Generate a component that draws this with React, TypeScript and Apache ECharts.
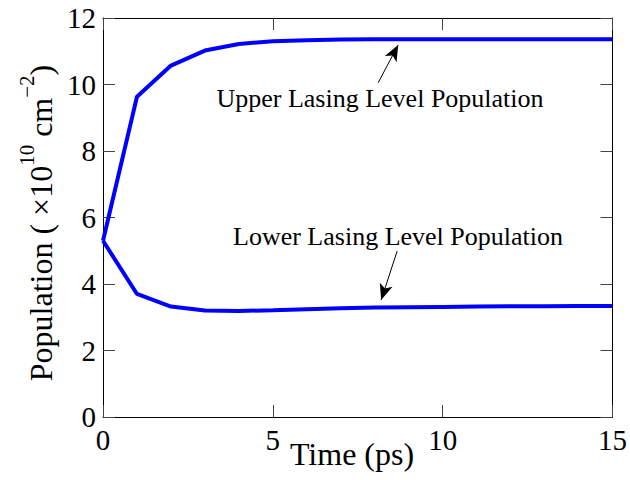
import React, { useEffect, useRef } from "react";
import * as echarts from "echarts";

const times = [0, 1, 2, 3, 4, 5, 6, 7, 8, 9, 10, 11, 12, 13, 14, 15];
const upperPopulation = [5.3, 9.63, 10.57, 11.02, 11.22, 11.3, 11.33, 11.35, 11.36, 11.36, 11.36, 11.36, 11.36, 11.36, 11.36, 11.36];
const lowerPopulation = [5.3, 3.7, 3.32, 3.2, 3.19, 3.21, 3.24, 3.27, 3.29, 3.3, 3.31, 3.32, 3.33, 3.33, 3.34, 3.34];
const upperLabel = "Upper Lasing Level Population";
const lowerLabel = "Lower Lasing Level Population";
const upperArrow = [[8.1, 10.05], [8.69, 11.19]];
const lowerArrow = [[8.66, 4.99], [8.19, 3.52]];

const FONT = "Liberation Serif";

export default function App() {
  const ref = useRef<HTMLDivElement>(null);
  useEffect(() => {
    if (!ref.current) return;
    const chart = echarts.init(ref.current, undefined, { renderer: "svg" });
    const tickStyle = { show: true, inside: true, length: 12, lineStyle: { color: "#444", width: 1 } };
    const lineStyle = { show: true, onZero: false, lineStyle: { color: "#000", width: 1 } };
    const labelBase = { fontFamily: FONT, fontSize: 29, color: "#000" };
    const arrowLine = (pts: number[][]) => ({
      silent: true,
      symbol: ["none", "arrow"],
      symbolSize: [10, 16],
      label: { show: false },
      lineStyle: { color: "#000", width: 1, type: "solid" },
      emphasis: { disabled: true },
      data: [[{ coord: pts[0] }, { coord: pts[1] }]],
    });
    chart.setOption({
      animation: false,
      backgroundColor: "#fff",
      textStyle: { fontFamily: FONT },
      grid: { left: 103, right: 16, top: 18, bottom: 63, containLabel: false },
      xAxis: [
        {
          type: "value", min: 0, max: 15, interval: 5, position: "bottom",
          axisLine: lineStyle, axisTick: tickStyle, splitLine: { show: false },
          axisLabel: { ...labelBase, margin: 8, showMinLabel: true, showMaxLabel: true },
        },
        {
          type: "value", min: 0, max: 15, interval: 5, position: "top",
          axisLine: lineStyle, axisTick: tickStyle, splitLine: { show: false },
          axisLabel: { show: false },
        },
      ],
      yAxis: [
        {
          type: "value", min: 0, max: 12, interval: 2, position: "left",
          axisLine: lineStyle, axisTick: tickStyle, splitLine: { show: false },
          axisLabel: { ...labelBase, margin: 7 },
        },
        {
          type: "value", min: 0, max: 12, interval: 2, position: "right",
          axisLine: lineStyle, axisTick: tickStyle, splitLine: { show: false },
          axisLabel: { show: false },
        },
      ],
      series: [
        {
          type: "line",
          name: "Upper",
          data: times.map((t, i) => [t, upperPopulation[i]]),
          showSymbol: false,
          symbol: "none",
          lineStyle: { color: "#0000ff", width: 4 },
          itemStyle: { color: "#0000ff" },
          markLine: arrowLine(upperArrow),
        },
        {
          type: "line",
          name: "Lower",
          data: times.map((t, i) => [t, lowerPopulation[i]]),
          showSymbol: false,
          symbol: "none",
          lineStyle: { color: "#0000ff", width: 4 },
          itemStyle: { color: "#0000ff" },
          markLine: arrowLine(lowerArrow),
        },
      ],
      graphic: [
        {
          type: "text", x: 380, y: 98,
          style: { text: upperLabel, fontFamily: FONT, fontSize: 26, fill: "#000", align: "center", verticalAlign: "middle" },
        },
        {
          type: "text", x: 398, y: 236,
          style: { text: lowerLabel, fontFamily: FONT, fontSize: 26, fill: "#000", align: "center", verticalAlign: "middle" },
        },
        {
          type: "text", x: 352, y: 454,
          style: { text: "Time (ps)", fontFamily: FONT, fontSize: 32, fill: "#000", align: "center", verticalAlign: "middle" },
        },
        {
          type: "text", x: 41, y: 223, rotation: Math.PI / 2,
          style: {
            text: "{m|Population ( ×10}{s|10}{m| cm}{s|−2}{m|)}",
            fontFamily: FONT, fontSize: 32, fill: "#000", align: "center", verticalAlign: "middle",
            rich: {
              m: { fontFamily: FONT, fontSize: 32, lineHeight: 50, fill: "#000" },
              s: { fontFamily: FONT, fontSize: 21, lineHeight: 21, verticalAlign: "top", fill: "#000" },
            },
          },
        },
      ],
    });
    return () => chart.dispose();
  }, []);
  return <div ref={ref} style={{ position: "fixed", left: 0, top: 0, width: 630, height: 480 }} />;
}
